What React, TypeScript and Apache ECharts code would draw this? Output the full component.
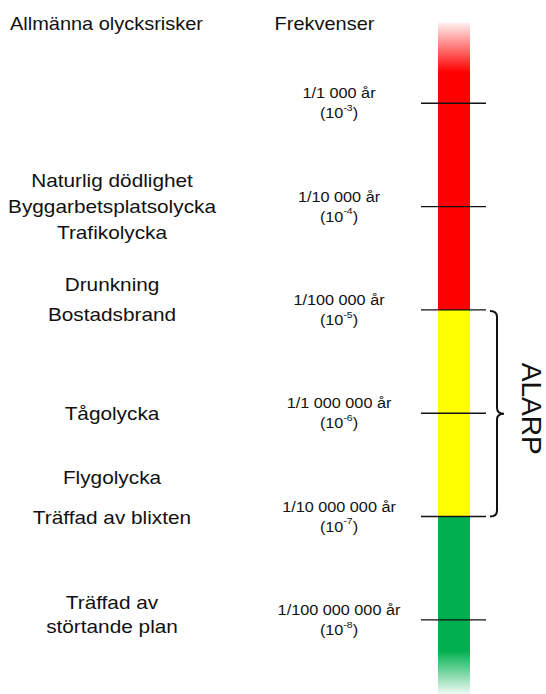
import React, { useEffect, useRef } from 'react';
import * as echarts from 'echarts';

// ---- data ----
const headers = ['Allmänna olycksrisker', 'Frekvenser'];
const exponents = [-3, -4, -5, -6, -7, -8];
const freqLabels = [
  '1/1 000 år',
  '1/10 000 år',
  '1/100 000 år',
  '1/1 000 000 år',
  '1/10 000 000 år',
  '1/100 000 000 år',
];
const risks = [
  'Naturlig dödlighet',
  'Byggarbetsplatsolycka',
  'Trafikolycka',
  'Drunkning',
  'Bostadsbrand',
  'Tågolycka',
  'Flygolycka',
  'Träffad av blixten',
  'Träffad av\nstörtande plan',
];
const riskLevels = [-3.75, -4.0, -4.255, -4.75, -5.04, -6.0, -6.62, -7.005, -7.95];
const bandTop = [-2.22, -5, -7];
const bandBottom = [-5, -7, -8.72];
const fadeTopEnd = -2.7;
const fadeBottomStart = -8.3;
const alarpRange = [-5, -7];
const alarpLabel = 'ALARP';

// ---- layout / style ----
const W = 546;
const H = 694;
const Y_MAX = -2;
const Y_MIN = -8.718;
const FONT = "'Liberation Sans', Arial, Helvetica, sans-serif";
const TXT = '#111';
const BAR_L = 438;
const BAR_R = 470;
const TICK_L = 421;
const TICK_R = 486;
const FREQ_X = 339;
const RISK_X = 112;
const BAND_COLORS = ['#ff0000', '#ffff00', '#00b050'];

export default function App() {
  const ref = useRef<HTMLDivElement>(null);

  useEffect(() => {
    if (!ref.current) return;
    const chart = echarts.init(ref.current, undefined, { renderer: 'svg' });

    const bandData = bandTop.map((t, i) => [t, bandBottom[i], i]);
    const tickData = exponents.map((e, i) => [e, i]);
    const riskData = riskLevels.map((v, i) => [v, i]);

    const headerStyle = (text: string) => ({
      text,
      fontSize: 18,
      fontFamily: FONT,
      fill: TXT,
      align: 'center',
      verticalAlign: 'middle',
      textAlign: 'center',
      textVerticalAlign: 'middle',
    });

    const option: any = {
      animation: false,
      grid: { left: 0, right: 0, top: 0, bottom: 0 },
      xAxis: { type: 'value', min: 0, max: W, show: false },
      yAxis: { type: 'value', min: Y_MIN, max: Y_MAX, show: false },
      graphic: [
        { type: 'text', x: 106.5, y: 24, scaleX: 1.11, style: headerStyle(headers[0]) },
        { type: 'text', x: 324.5, y: 24, scaleX: 1.11, style: headerStyle(headers[1]) },
      ],
      series: [
        {
          type: 'custom',
          name: 'bands',
          silent: true,
          encode: { y: 0 },
          data: bandData,
          renderItem: (params: any, api: any) => {
            const i = params.dataIndex;
            const p1 = api.coord([BAR_L, api.value(0)]);
            const p2 = api.coord([BAR_R, api.value(1)]);
            const h = p2[1] - p1[1];
            let fill: any = BAND_COLORS[i];
            if (i === 0) {
              const f = (api.coord([0, fadeTopEnd])[1] - p1[1]) / h;
              fill = new echarts.graphic.LinearGradient(0, 0, 0, 1, [
                { offset: 0, color: 'rgba(255,0,0,0.06)' },
                { offset: f, color: BAND_COLORS[0] },
                { offset: 1, color: BAND_COLORS[0] },
              ]);
            } else if (i === bandTop.length - 1) {
              const f = (api.coord([0, fadeBottomStart])[1] - p1[1]) / h;
              fill = new echarts.graphic.LinearGradient(0, 0, 0, 1, [
                { offset: 0, color: BAND_COLORS[2] },
                { offset: f, color: BAND_COLORS[2] },
                { offset: 1, color: 'rgba(0,176,80,0.06)' },
              ]);
            }
            return {
              type: 'rect',
              shape: { x: p1[0], y: p1[1], width: p2[0] - p1[0], height: h },
              style: { fill },
            };
          },
        },
        {
          type: 'custom',
          name: 'ticks',
          silent: true,
          encode: { y: 0 },
          data: tickData,
          renderItem: (params: any, api: any) => {
            const i = params.dataIndex;
            const v = api.value(0);
            const a = api.coord([TICK_L, v]);
            const b = api.coord([TICK_R, v]);
            const c = api.coord([FREQ_X, v]);
            return {
              type: 'group',
              children: [
                {
                  type: 'line',
                  shape: { x1: a[0], y1: a[1], x2: b[0], y2: b[1] },
                  style: { stroke: '#111', lineWidth: 1.4 },
                },
                {
                  type: 'text',
                  x: c[0],
                  y: c[1],
                  scaleX: 1.16,
                  style: {
                    text: `${freqLabels[i]}\n(10{sup|${exponents[i]}})`,
                    fontSize: 14,
                    fontFamily: FONT,
                    lineHeight: 20,
                    fill: TXT,
                    align: 'center',
                    verticalAlign: 'middle',
                    rich: {
                      sup: {
                        fontSize: 9,
                        fontFamily: FONT,
                        fill: TXT,
                        verticalAlign: 'top',
                        lineHeight: 11,
                      },
                    },
                  },
                },
              ],
            };
          },
        },
        {
          type: 'custom',
          name: 'risks',
          silent: true,
          encode: { y: 0 },
          data: riskData,
          renderItem: (params: any, api: any) => {
            const i = params.dataIndex;
            const c = api.coord([RISK_X, api.value(0)]);
            return {
              type: 'text',
              x: c[0],
              y: c[1],
              scaleX: 1.155,
              style: {
                text: risks[i],
                fontSize: 18,
                fontFamily: FONT,
                lineHeight: 24,
                fill: TXT,
                align: 'center',
                verticalAlign: 'middle',
              },
            };
          },
        },
        {
          type: 'custom',
          name: 'alarp',
          silent: true,
          encode: { y: 0 },
          data: [[alarpRange[0], alarpRange[1]]],
          renderItem: (params: any, api: any) => {
            const t = api.coord([490, api.value(0)]);
            const bt = api.coord([490, api.value(1)]);
            const yTop = t[1] + 1;
            const yBot = bt[1];
            const yMid = (yTop + yBot) / 2;
            const x0 = 490;
            const xl = 497;
            const xt = 504;
            const r = 6;
            const d =
              `M${x0},${yTop} Q${xl},${yTop} ${xl},${yTop + r} ` +
              `L${xl},${yMid - r} Q${xl},${yMid} ${xt},${yMid} ` +
              `Q${xl},${yMid} ${xl},${yMid + r} ` +
              `L${xl},${yBot - r} Q${xl},${yBot} ${x0},${yBot}`;
            return {
              type: 'group',
              children: [
                {
                  type: 'path',
                  shape: { pathData: d },
                  style: { fill: 'none', stroke: '#111', lineWidth: 2 },
                },
                {
                  type: 'text',
                  x: 531,
                  y: yMid - 5,
                  rotation: -Math.PI / 2,
                  style: {
                    text: alarpLabel,
                    fontSize: 28,
                    lineHeight: 24,
                    fontFamily: FONT,
                    fill: TXT,
                    align: 'center',
                    verticalAlign: 'middle',
                  },
                },
              ],
            };
          },
        },
      ],
    };

    chart.setOption(option);
    return () => chart.dispose();
  }, []);

  return (
    <div
      ref={ref}
      style={{ position: 'absolute', left: 0, top: 0, width: W, height: H, background: '#fff' }}
    />
  );
}
